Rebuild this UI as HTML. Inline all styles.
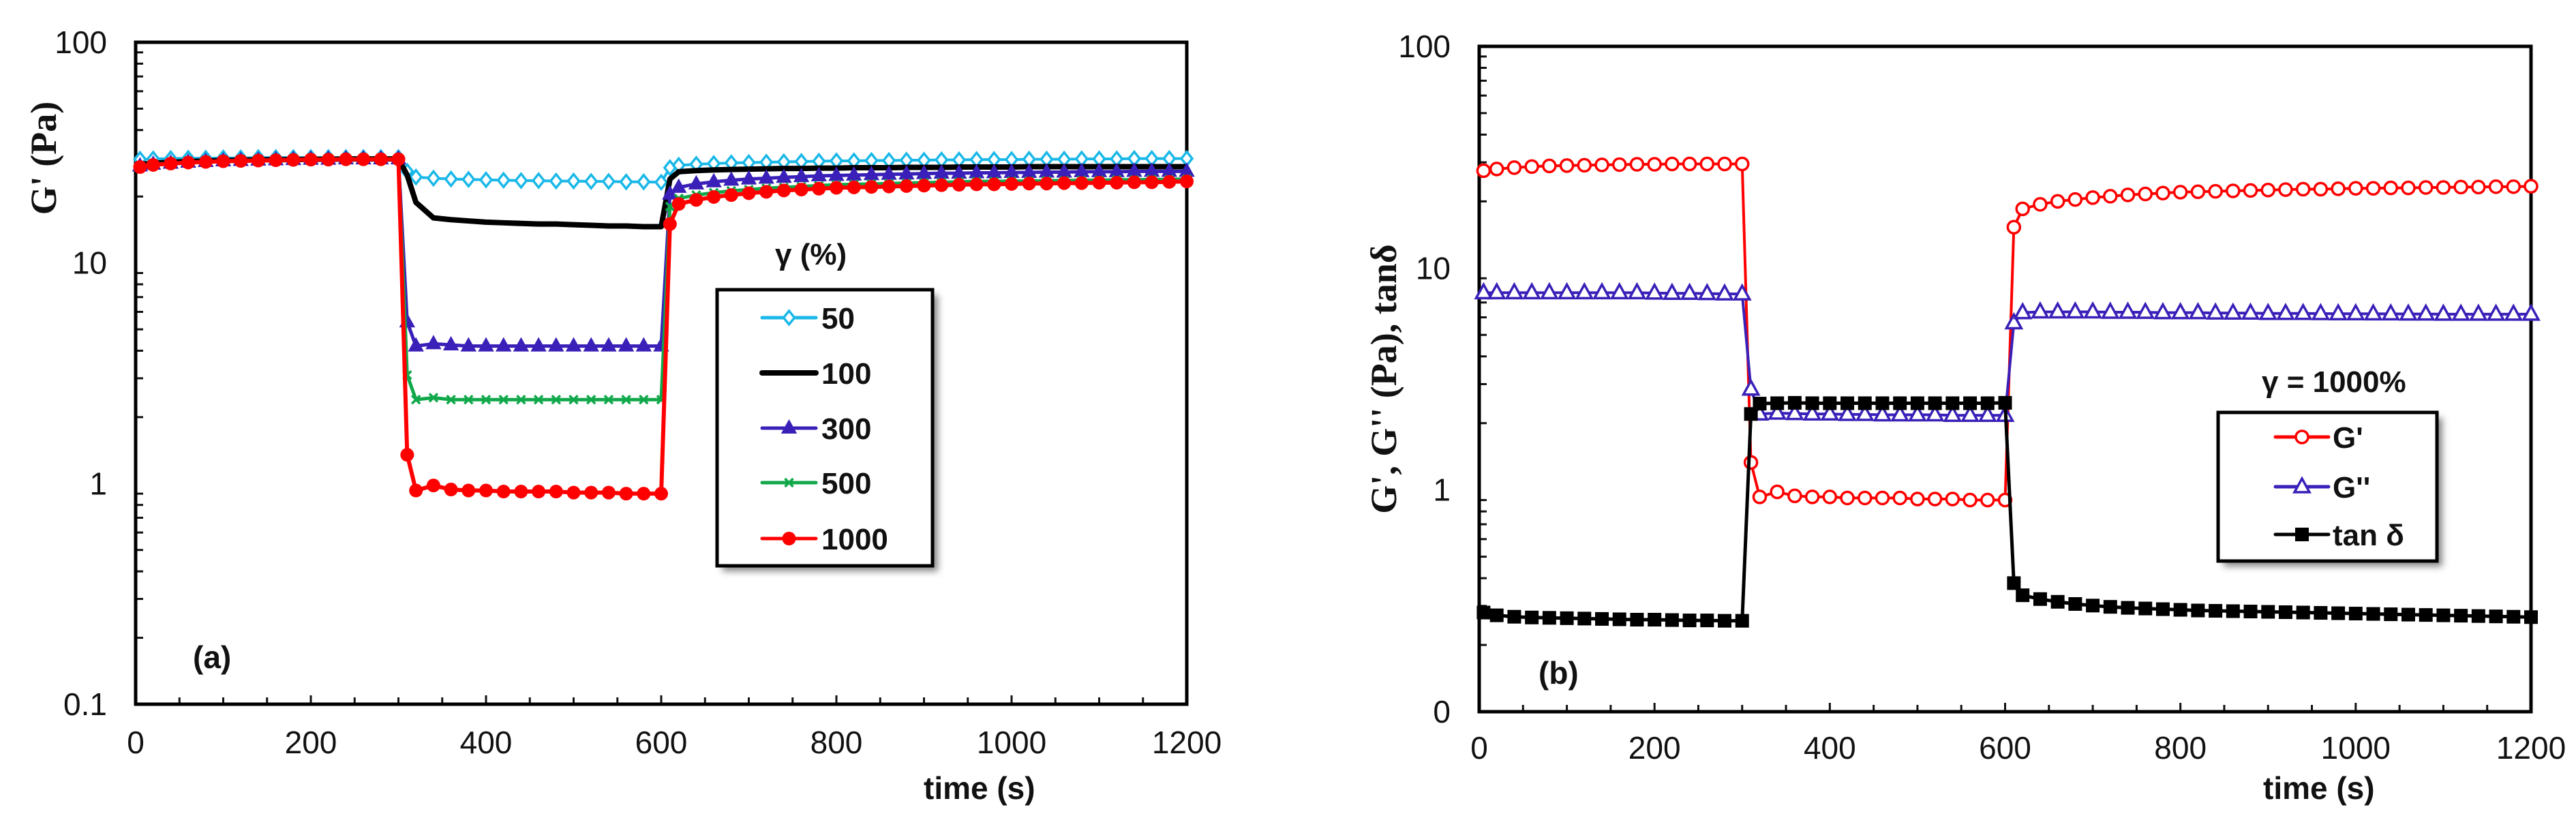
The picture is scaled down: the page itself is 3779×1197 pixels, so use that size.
<!DOCTYPE html>
<html><head><meta charset="utf-8">
<style>
html,body{margin:0;padding:0;background:#fff;}
svg{display:block;}
text{font-family:"Liberation Sans",Arial,sans-serif;}
.tick{font-size:46px;fill:#111;}
.ttl{font-size:46px;font-weight:bold;fill:#111;}
.serif{font-family:"Liberation Serif","Times New Roman",serif;font-weight:bold;font-size:54px;fill:#111;}
.leg{font-size:44px;font-weight:bold;fill:#111;}
</style></head>
<body>
<svg id="chart" width="3779" height="1197" viewBox="0 0 3779 1197" xmlns="http://www.w3.org/2000/svg">
<defs>
<filter id="sh" x="-10%" y="-10%" width="130%" height="130%"><feGaussianBlur stdDeviation="5"/></filter>
</defs>
<g id="pa"></g>
<g id="pb"></g>
</svg>
<script>
// shared time axis (s)
const times = [5,20,40,60,80,100,120,140,160,180,200,220,240,260,280,300,
 310,320,340,360,380,400,420,440,460,480,500,520,540,560,580,600,
 610,620,640,660,680,700,720,740,760,780,800,820,840,860,880,900,920,940,960,980,1000,1020,1040,1060,1080,1100,1120,1140,1160,1180,1200];
const xTicks = [0,200,400,600,800,1000,1200];
const yTicksA = [0.1,1,10,100];
const yTickLabelsA = ["0.1","1","10","100"];
const yTicksB = [0.1,1,10,100];
const yTickLabelsB = ["0","1","10","100"];
// panel (a) G' for different strain amplitudes
const g50  = [29.5,29.6,29.7,29.8,29.8,29.9,29.9,30,30,30,30,30,30,30,30,30,
 26,24.5,24.2,24,23.9,23.8,23.7,23.6,23.6,23.5,23.5,23.4,23.4,23.3,23.3,23.2,
 27,27.7,28,28.2,28.4,28.5,28.6,28.7,28.8,28.9,29,29,29.1,29.1,29.2,29.2,29.3,29.3,29.4,29.4,29.4,29.5,29.5,29.5,29.6,29.6,29.6,29.7,29.7,29.7,29.7];
const g100 = [28,28.3,28.6,28.8,29,29.1,29.2,29.3,29.4,29.4,29.5,29.5,29.6,29.6,29.6,29.6,
 25,18.8,16,15.7,15.5,15.3,15.2,15.1,15,15,14.9,14.8,14.7,14.7,14.6,14.6,
 24,25.9,26.2,26.4,26.5,26.6,26.7,26.8,26.8,26.9,26.9,27,27,27,27.1,27.1,27.1,27.2,27.2,27.2,27.2,27.3,27.3,27.3,27.3,27.3,27.3,27.3,27.3,27.3,27.3];
const g300 = [27.5,28,28.3,28.6,28.8,29,29.1,29.2,29.3,29.4,29.5,29.5,29.6,29.6,29.6,29.6,
 5.4,4.2,4.3,4.25,4.2,4.2,4.2,4.2,4.2,4.2,4.2,4.2,4.2,4.2,4.2,4.2,
 20.5,22,22.8,23.3,23.7,24,24.2,24.4,24.6,24.8,24.9,25,25.1,25.2,25.3,25.4,25.5,25.5,25.6,25.6,25.7,25.7,25.8,25.8,25.9,25.9,25.9,26,26,26,26];
const g500 = [27.5,28,28.3,28.6,28.8,29,29.1,29.2,29.3,29.4,29.5,29.5,29.6,29.6,29.6,29.6,
 3.1,2.4,2.45,2.4,2.4,2.4,2.4,2.4,2.4,2.4,2.4,2.4,2.4,2.4,2.4,2.4,
 18,19.6,20.3,20.8,21.2,21.5,21.8,22,22.2,22.4,22.6,22.7,22.8,22.9,23,23.1,23.2,23.3,23.4,23.4,23.5,23.5,23.6,23.6,23.7,23.7,23.8,23.8,23.9,23.9,24];
const g1000 = [27.2,27.8,28.2,28.5,28.7,28.9,29,29.1,29.2,29.3,29.4,29.4,29.5,29.5,29.5,29.5,
 1.35,0.93,0.98,0.94,0.93,0.93,0.92,0.92,0.92,0.92,0.91,0.91,0.91,0.9,0.9,0.9,
 15,18.5,19.3,19.9,20.3,20.7,21,21.3,21.5,21.7,21.9,22,22.1,22.2,22.3,22.4,22.5,22.6,22.7,22.7,22.8,22.9,22.9,23,23,23.1,23.1,23.2,23.2,23.3,23.4];
// panel (b) gamma = 1000%
const bGp  = [27.5,28,28.4,28.7,28.9,29,29.1,29.2,29.3,29.4,29.4,29.5,29.5,29.5,29.5,29.5,
 1.33,0.93,0.98,0.94,0.93,0.93,0.92,0.92,0.92,0.92,0.91,0.91,0.91,0.9,0.9,0.9,
 15.3,18.5,19.4,20,20.4,20.8,21.1,21.4,21.6,21.8,22,22.1,22.2,22.3,22.4,22.5,22.6,22.7,22.7,22.8,22.9,22.9,23,23,23.1,23.1,23.2,23.2,23.3,23.3,23.4];
const bGpp = [7.75,7.75,7.75,7.75,7.75,7.75,7.75,7.75,7.75,7.75,7.72,7.7,7.7,7.68,7.65,7.65,
 2.85,2.2,2.22,2.21,2.2,2.2,2.19,2.19,2.18,2.18,2.18,2.18,2.17,2.17,2.17,2.17,
 5.67,6.3,6.35,6.35,6.35,6.35,6.33,6.33,6.32,6.3,6.3,6.3,6.28,6.27,6.27,6.25,6.25,6.25,6.24,6.23,6.23,6.22,6.22,6.21,6.21,6.2,6.2,6.2,6.2,6.2,6.2];
const bTan = [0.28,0.272,0.268,0.266,0.265,0.264,0.263,0.262,0.261,0.26,0.26,0.259,0.258,0.258,0.257,0.257,
 2.2,2.45,2.46,2.47,2.46,2.46,2.46,2.46,2.46,2.46,2.46,2.46,2.46,2.46,2.46,2.47,
 0.38,0.335,0.322,0.313,0.306,0.301,0.297,0.294,0.292,0.29,0.288,0.286,0.285,0.284,0.283,0.282,0.281,0.28,0.279,0.278,0.277,0.276,0.275,0.274,0.273,0.272,0.271,0.27,0.269,0.268,0.267];

const NS='http://www.w3.org/2000/svg';
function mk(parent,tag,attrs){const e=document.createElementNS(NS,tag);for(const k in attrs)e.setAttribute(k,attrs[k]);parent.appendChild(e);return e;}

function makeAxes(L,R,T,B){
  return {
    x:t=>L+(t/1200)*(R-L),
    y:v=>B-(Math.log10(v)+1)/3*(B-T), L,R,T,B
  };
}

function drawFrame(g,ax,yTicks,yLabels,xlabY){
  for(let d=-1;d<2;d++){for(let m=2;m<=9;m++){const v=m*Math.pow(10,d);const yy=ax.y(v);
    const t=mk(g,'line',{x1:ax.L,x2:ax.L+11,y1:yy,y2:yy,stroke:'#111','stroke-width':3});
    }}
  for(let s=50;s<1200;s+=50){const xx=ax.x(s);const len=(s%200===0)?13:10;
    const t=mk(g,'line',{x1:xx,x2:xx,y1:ax.B,y2:ax.B-len,stroke:'#111','stroke-width':3});
    }
  const fr=mk(g,'rect',{x:ax.L,y:ax.T,width:ax.R-ax.L,height:ax.B-ax.T,fill:'none',stroke:'#000','stroke-width':5});
  
  xTicks.forEach(v=>{const t=mk(g,'text',{x:ax.x(v),y:xlabY,'text-anchor':'middle',class:'tick'});t.textContent=v;
    });
  yTicks.forEach((v,i)=>{const t=mk(g,'text',{x:ax.L-42,y:ax.y(v)+16,'text-anchor':'end',class:'tick'});t.textContent=yLabels[i];
    });
}

function marker(g,type,x,y,color){
  let e;
  if(type==='diamond'){e=mk(g,'path',{d:`M${x} ${y-10}L${x+8} ${y}L${x} ${y+10}L${x-8} ${y}Z`,fill:'#fff',stroke:color,'stroke-width':3.5});}
  else if(type==='tri'){e=mk(g,'path',{d:`M${x} ${y-11}L${x+10} ${y+7}L${x-10} ${y+7}Z`,fill:color,stroke:color,'stroke-width':2});}
  else if(type==='otri'){e=mk(g,'path',{d:`M${x} ${y-12}L${x+11} ${y+8}L${x-11} ${y+8}Z`,fill:'#fff',stroke:color,'stroke-width':3.5});}
  else if(type==='x'){e=mk(g,'path',{d:`M${x-6} ${y-6}L${x+6} ${y+6}M${x+6} ${y-6}L${x-6} ${y+6}`,stroke:color,'stroke-width':3.5});}
  else if(type==='dot'){e=mk(g,'circle',{cx:x,cy:y,r:10,fill:color});}
  else if(type==='ocirc'){e=mk(g,'circle',{cx:x,cy:y,r:9,fill:'#fff',stroke:color,'stroke-width':3.5});}
  else if(type==='sq'){e=mk(g,'rect',{x:x-10,y:y-10,width:20,height:20,fill:color});}
  if(e){}
}

function series(g,ax,vals,color,type,name,lw){
  const sg=mk(g,'g',{});
  
  
  const pts=times.map((t,i)=>ax.x(t)+','+ax.y(vals[i])).join(' ');
  mk(sg,'polyline',{points:pts,fill:'none',stroke:color,'stroke-width':lw||5,'stroke-linejoin':'round'});
  if(type)times.forEach((t,i)=>marker(sg,type,ax.x(t),ax.y(vals[i]),color));
}

function legend(g,x0,y0,w,h,items,textX,lineX1,lineX2){
  const sh=mk(g,'rect',{x:x0+8,y:y0+8,width:w,height:h,fill:'#888',filter:'url(#sh)'});
  
  const bx=mk(g,'rect',{x:x0,y:y0,width:w,height:h,fill:'#fff',stroke:'#000','stroke-width':5});
  
  items.forEach(it=>{const eg=mk(g,'g',{});
    
    
    mk(eg,'line',{x1:lineX1,x2:lineX2,y1:it.y,y2:it.y,stroke:it.c,'stroke-width':it.type?5:8,'stroke-linecap':'round'});
    if(it.type)marker(eg,it.type,(lineX1+lineX2)/2,it.y,it.c);
    const t=mk(eg,'text',{x:textX,y:it.y+16,class:'leg'});t.textContent=it.label;});
}

// ---- Panel A ----
const ga=document.getElementById('pa');
const axA=makeAxes(199,1741,62,1033);
drawFrame(ga,axA,yTicksA,yTickLabelsA,1105);
series(ga,axA,g50,'#1ab8e8','diamond','series-50',4);
series(ga,axA,g100,'#000000',null,'series-100',8);
series(ga,axA,g300,'#3a1fb8','tri','series-300',5);
series(ga,axA,g500,'#10a84a','x','series-500',5);
series(ga,axA,g1000,'#ff0000','dot','series-1000',6);
{const t=mk(ga,'text',{x:1355,y:1172,class:'ttl'});t.textContent='time (s)';}
{const t=mk(ga,'text',{x:0,y:0,class:'serif',transform:'translate(82,232) rotate(-90)','text-anchor':'middle'});t.textContent="G' (Pa)";}
{const t=mk(ga,'text',{x:283,y:980,class:'ttl'});t.textContent='(a)';}
{const t=mk(ga,'text',{x:1137,y:388,class:'leg'});t.textContent='γ  (%)';}
legend(ga,1052,425,316,405,[
 {y:466,c:'#1ab8e8',type:'diamond',label:'50'},
 {y:547,c:'#000',type:null,label:'100'},
 {y:628,c:'#3a1fb8',type:'tri',label:'300'},
 {y:708,c:'#10a84a',type:'x',label:'500'},
 {y:790,c:'#ff0000',type:'dot',label:'1000'}],1205,1118,1197);

// ---- Panel B ----
const gb=document.getElementById('pb');
const axB=makeAxes(2170,3713,68,1044);
drawFrame(gb,axB,yTicksB,yTickLabelsB,1113);
series(gb,axB,bGp,'#ff0000','ocirc','series-g-prime',4);
series(gb,axB,bGpp,'#3a1fb8','otri','series-g-double-prime',4);
series(gb,axB,bTan,'#000000','sq','series-tan-delta',5);
{const t=mk(gb,'text',{x:3320,y:1172,class:'ttl'});t.textContent='time (s)';}
{const t=mk(gb,'text',{x:0,y:0,class:'serif',transform:'translate(2048,556) rotate(-90)','text-anchor':'middle'});t.textContent="G', G'' (Pa), tanδ";}
{const t=mk(gb,'text',{x:2257,y:1003,class:'ttl'});t.textContent='(b)';}
{const t=mk(gb,'text',{x:3318,y:575,class:'leg'});t.textContent='γ  = 1000%';}
legend(gb,3254,605,321,218,[
 {y:641,c:'#ff0000',type:'ocirc',label:"G'"},
 {y:714,c:'#3a1fb8',type:'otri',label:"G''"},
 {y:784,c:'#000',type:'sq',label:'tan δ'}],3422,3338,3416);
</script>
</body></html>
